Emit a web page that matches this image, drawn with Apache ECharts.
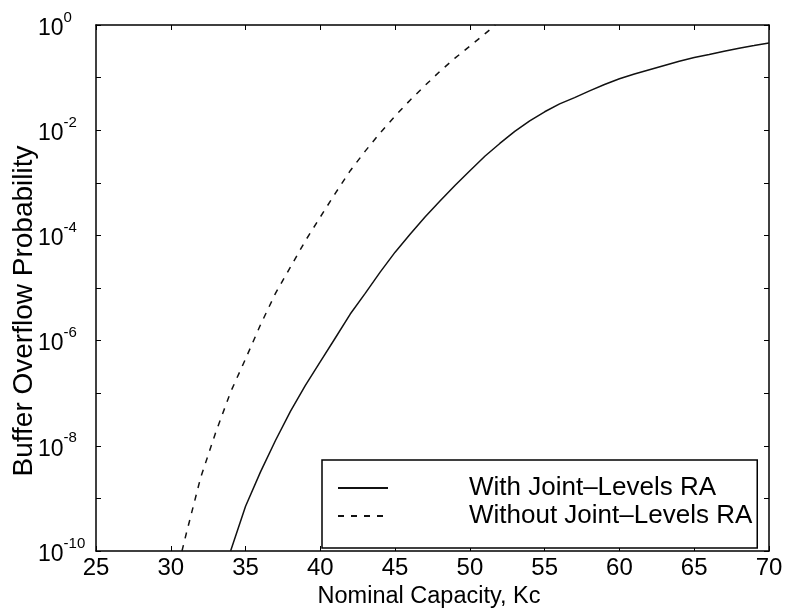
<!DOCTYPE html>
<html>
<head>
<meta charset="utf-8">
<script src="https://cdn.jsdelivr.net/npm/echarts@6/dist/echarts.min.js"></script>
<style>
html,body{margin:0;padding:0;background:#fff;}
#chart{width:789px;height:612px;}
</style>
</head>
<body>
<div id="chart"></div>
<script>
// Nominal capacity (x) values
var withX = [34,35,36,37,38,39,40,41,42,43,44,45,46,47,48,49,50,51,52,53,54,55,56,57,58,59,60,61,62,63,64,65,66,67,68,69,70];
var withY = [1e-10,7.1e-10,3.2e-9,1.26e-8,4.5e-8,1.41e-7,4.0e-7,1.12e-6,3.2e-6,7.9e-6,2.0e-5,4.8e-5,1.05e-4,2.24e-4,4.5e-4,8.9e-4,1.7e-3,3.2e-3,5.6e-3,9.5e-3,0.0151,0.0224,0.0316,0.0417,0.056,0.074,0.095,0.117,0.141,0.17,0.204,0.24,0.275,0.316,0.363,0.407,0.457];
var withoutX = [30.75,31,32,33,34,35,36,37,38,39,40,41,42,43,44,45,46,47,48,49,50,51,51.7];
var withoutY = [1e-10,1.95e-10,2.5e-9,1.78e-8,1.05e-7,4.5e-7,2.0e-6,7.9e-6,2.5e-5,7.9e-5,2.24e-4,6.3e-4,1.7e-3,4.0e-3,8.9e-3,0.0186,0.0372,0.0708,0.132,0.234,0.398,0.676,1];
var seriesNames = ['With Joint\u2013Levels RA', 'Without Joint\u2013Levels RA'];
var xTitle = 'Nominal Capacity, Kc';
var yTitle = 'Buffer Overflow Probability';

function pairs(xs, ys){ return xs.map(function(x,i){ return [x, ys[i]]; }); }

var FONT = '"Liberation Sans", Arial, Helvetica, sans-serif';
var chart = echarts.init(document.getElementById('chart'));
var axisLineStyle = {color:'#000', width:1.5};
var tickStyle = {color:'#000', width:1};

var option = {
  backgroundColor:'#fff',
  animation:false,
  grid:{left:96, right:20, top:25, bottom:61},
  xAxis:[{
    type:'value', min:25, max:70, interval:5, position:'bottom',
    axisLine:{show:true, onZero:false, lineStyle:axisLineStyle},
    axisTick:{show:true, inside:true, length:5, lineStyle:tickStyle},
    axisLabel:{fontSize:24, color:'#000', fontFamily:FONT, margin:5},
    splitLine:{show:false}
  },{
    type:'value', min:25, max:70, interval:5, position:'top',
    axisLine:{show:true, onZero:false, lineStyle:axisLineStyle},
    axisTick:{show:true, inside:true, length:5, lineStyle:tickStyle},
    axisLabel:{show:false}, splitLine:{show:false}
  }],
  yAxis:[{
    type:'log', logBase:10, min:1e-10, max:1, interval:1, position:'left',
    axisLine:{show:true, onZero:false, lineStyle:axisLineStyle},
    axisTick:{show:true, inside:true, length:5, lineStyle:tickStyle},
    axisLabel:{
      align:'left', margin:58, color:'#000', fontFamily:FONT,
      formatter:function(v){
        var e = Math.round(Math.log(v)/Math.LN10);
        if (e % 2 !== 0) return '';
        return '{b|10}{s|' + (e===0 ? '0' : e) + '}';
      },
      rich:{
        b:{fontSize:23, fontFamily:FONT, color:'#000', lineHeight:30, verticalAlign:'bottom', padding:[6,0,0,0]},
        s:{fontSize:15, fontFamily:FONT, color:'#000', lineHeight:30, verticalAlign:'top'}
      }
    },
    splitLine:{show:false}
  },{
    type:'log', logBase:10, min:1e-10, max:1, interval:1, position:'right',
    axisLine:{show:true, onZero:false, lineStyle:axisLineStyle},
    axisTick:{show:true, inside:true, length:5, lineStyle:tickStyle},
    axisLabel:{show:false}, splitLine:{show:false}
  }],
  legend:{
    orient:'vertical', left:322, top:460,
    padding:[15,5,19,15], itemGap:2, itemWidth:50, itemHeight:14,
    borderColor:'#000', borderWidth:1.5, backgroundColor:'#fff',
    itemStyle:{opacity:0},
    textStyle:{fontSize:26, color:'#000', fontFamily:FONT, lineHeight:26, padding:[0,0,0,76]},
    data:seriesNames
  },
  graphic:[{
    type:'text', x:24, y:311, rotation:Math.PI/2,
    style:{text:yTitle, font:'28px ' + FONT, fill:'#000', align:'center', verticalAlign:'middle'}
  },{
    type:'text', x:429, y:597,
    style:{text:xTitle, font:'23.5px ' + FONT, fill:'#000', align:'center', verticalAlign:'middle'}
  }],
  series:[{
    name:seriesNames[0], type:'line', xAxisIndex:0, yAxisIndex:0,
    data:pairs(withX, withY), showSymbol:false, symbol:'none', smooth:false,
    lineStyle:{color:'#111', width:1.5, type:'solid'}, itemStyle:{color:'#111'}
  },{
    name:seriesNames[1], type:'line', xAxisIndex:0, yAxisIndex:0,
    data:pairs(withoutX, withoutY), showSymbol:false, symbol:'none', smooth:false,
    lineStyle:{color:'#111', width:1.5, type:[6,7]}, itemStyle:{color:'#111'}
  }]
};
chart.setOption(option);
</script>
</body>
</html>
